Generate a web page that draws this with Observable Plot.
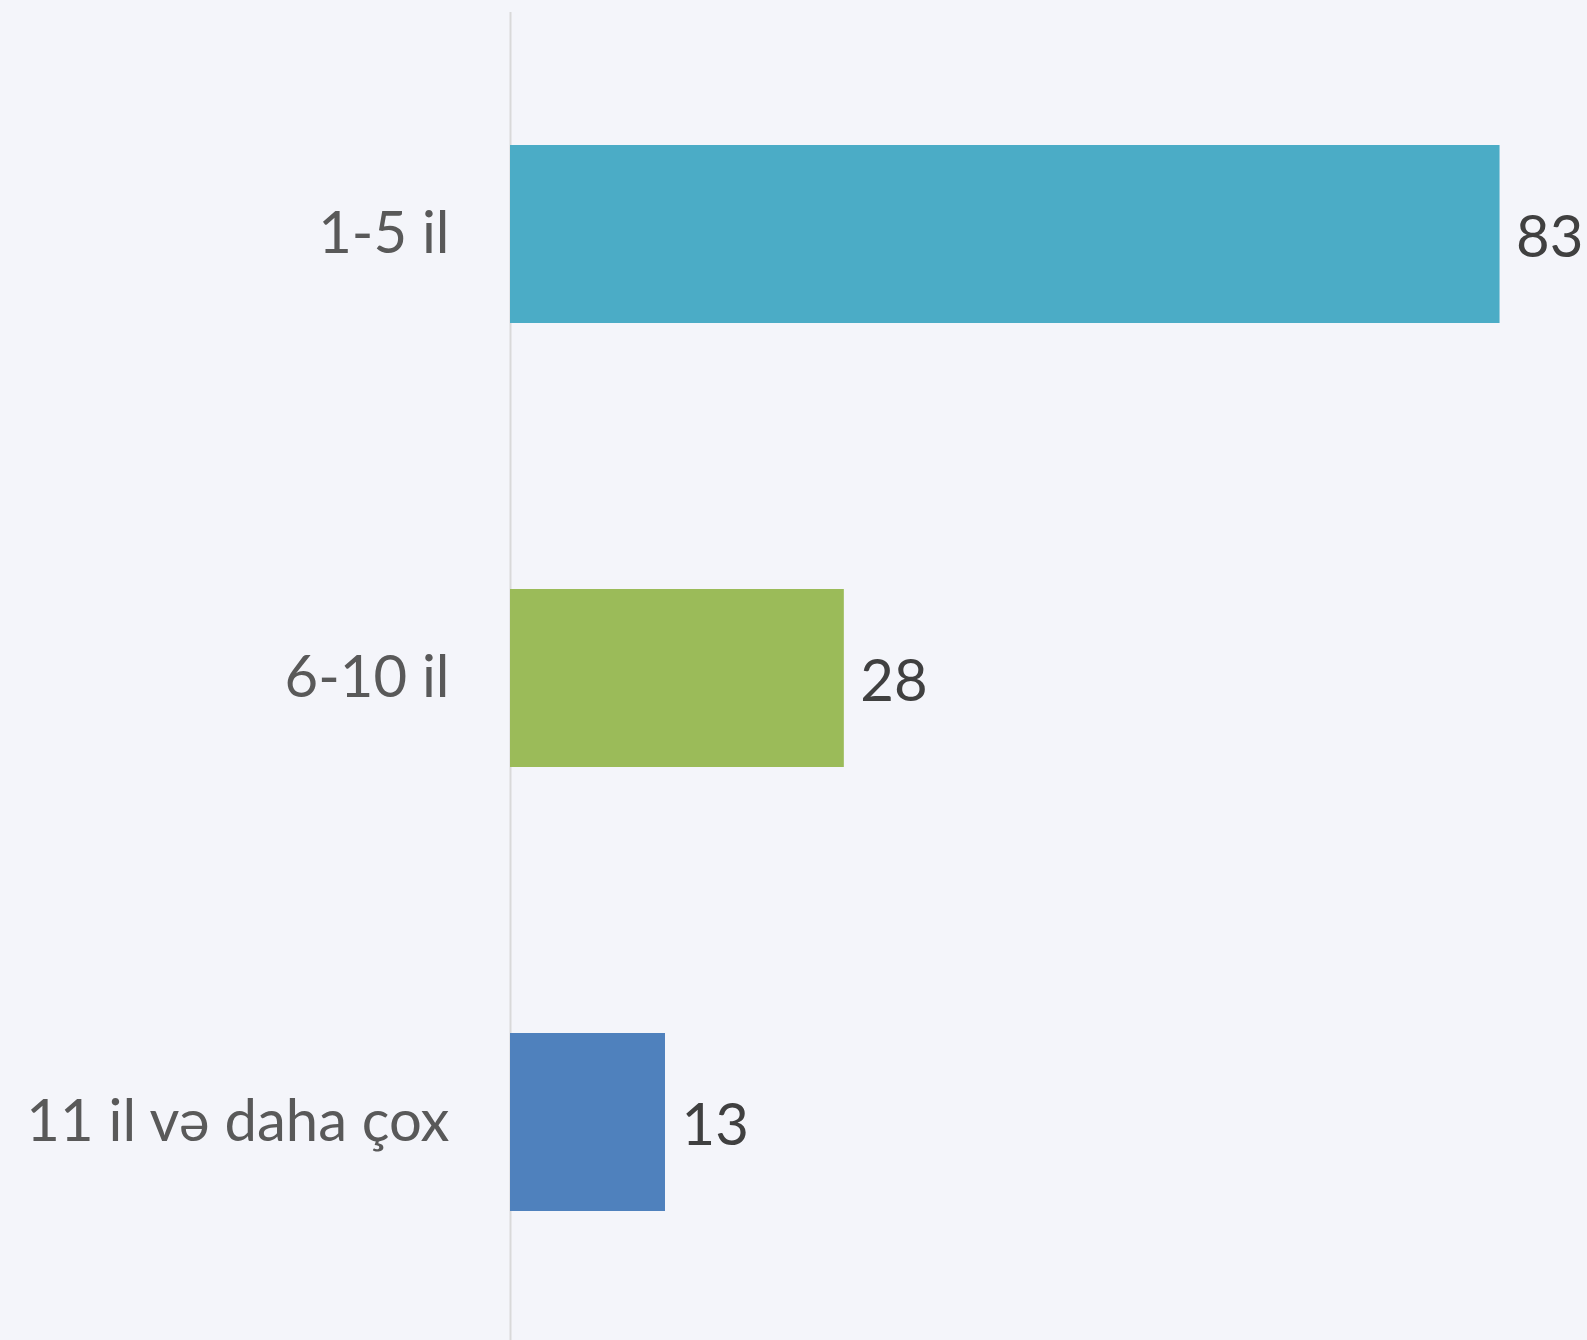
<!DOCTYPE html>
<html>
<head>
<meta charset="utf-8">
<script src="https://cdn.jsdelivr.net/npm/d3@7"></script>
<script src="https://cdn.jsdelivr.net/npm/@observablehq/plot@0.6"></script>
<style>
  html, body { margin: 0; padding: 0; background: #F4F5FA; }
  #chart { width: 1587px; height: 1340px; }
</style>
</head>
<body>
<div id="chart"></div>
<script>
const categories = ["1-5 il", "6-10 il", "11 il və daha çox"];
const values = [83, 28, 13];
const colors = ["#4BACC6", "#9BBB59", "#4F81BD"];

const data = categories.map((c, i) => ({category: c, value: values[i], color: colors[i]}));

const chart = Plot.plot({
  width: 1587,
  height: 1340,
  marginLeft: 510,
  marginRight: 4,
  marginTop: 12,
  marginBottom: -4,
  style: {background: "#F4F5FA", color: "#595959", fontFamily: "Lato, 'Open Sans', sans-serif", overflow: "hidden"},
  x: {domain: [0, 90], axis: null},
  y: {domain: categories, paddingInner: 0.6, paddingOuter: 0.3, label: null},
  marks: [
    Plot.axisY({tickSize: 0, tickPadding: 61, fontSize: 58, label: null}),
    Plot.ruleX([0], {stroke: "#D9D9D9", strokeWidth: 2}),
    Plot.barX(data, {x: "value", y: "category", fill: "color"}),
    Plot.text(data, {x: "value", y: "category", text: d => String(d.value), textAnchor: "start", dx: 16, dy: 4, fontSize: 58, fill: "#404040"})
  ]
});
document.getElementById("chart").appendChild(chart);
</script>
</body>
</html>
